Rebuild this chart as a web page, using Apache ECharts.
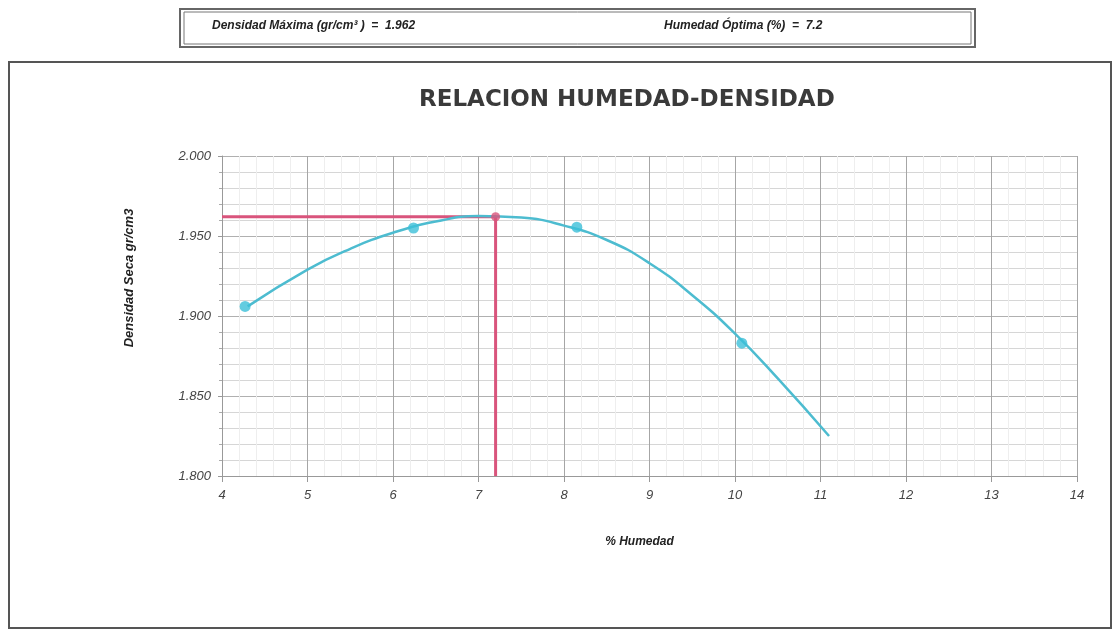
<!DOCTYPE html>
<html>
<head>
<meta charset="utf-8">
<script src="https://cdn.jsdelivr.net/npm/echarts@6/dist/echarts.min.js"></script>
<style>
  html, body { margin: 0; padding: 0; background: #fff; }
  #chart { width: 1113px; height: 630px; }
</style>
</head>
<body>
<div id="chart"></div>
<script>
// puntos del ensayo (humedad %, densidad seca)
const humedad = [4.27, 6.24, 8.15, 10.08]
const densidad = [1.906, 1.955, 1.9555, 1.883]

// curva de ajuste
const curvaX = [4.3, 5, 5.5, 6, 6.5, 7, 7.5, 8, 8.5, 9, 9.5, 10, 10.5, 11.1]
const curvaY = [1.906, 1.929, 1.942, 1.952, 1.959, 1.9625, 1.9615, 1.9565, 1.9475, 1.933, 1.913, 1.889, 1.861, 1.825]

const densMax = 1.962
const humOpt = 7.2
const xTicks = [4, 5, 6, 7, 8, 9, 10, 11, 12, 13, 14]
const yTicks = [1.8, 1.85, 1.9, 1.95, 2.0]

const chart = echarts.init(document.getElementById('chart'))

const labelFont = { fontFamily: 'Liberation Sans', fontStyle: 'italic', fontSize: 13, color: '#444' }

const option = {
  animation: false,
  backgroundColor: '#fff',
  grid: { left: 222, right: 36, top: 156, bottom: 154 },
  graphic: [
    // recuadro superior con doble borde
    { type: 'rect', shape: { x: 180, y: 9, width: 795, height: 38 }, style: { fill: '#fff', stroke: '#666', lineWidth: 2 } },
    { type: 'rect', shape: { x: 184, y: 12, width: 787, height: 32 }, style: { fill: 'none', stroke: '#777', lineWidth: 1 } },
    { type: 'text', left: 212, top: 20, style: { text: 'Densidad Máxima (gr/cm³ )  =  ' + densMax.toFixed(3), font: 'italic bold 12px "Liberation Sans"', fill: '#222' } },
    { type: 'text', left: 664, top: 20, style: { text: 'Humedad Óptima (%)  =  ' + humOpt, font: 'italic bold 12px "Liberation Sans"', fill: '#222' } },
    // marco del grafico
    { type: 'rect', shape: { x: 9, y: 62, width: 1102, height: 566 }, style: { stroke: '#555', lineWidth: 2, fill: 'none' } },
    { type: 'text', left: 419, top: 89, style: { text: 'RELACION HUMEDAD-DENSIDAD', font: 'bold 23px "DejaVu Sans"', fill: '#3a3a3a' } },
    { type: 'text', x: 129, y: 278, rotation: Math.PI / 2, style: { text: 'Densidad Seca gr/cm3', font: 'italic bold 13px "Liberation Sans"', fill: '#222', align: 'center', verticalAlign: 'middle' } }
  ],
  xAxis: {
    type: 'value',
    min: 4, max: 14, interval: 1,
    name: '% Humedad',
    nameLocation: 'middle',
    nameGap: 60,
    nameTextStyle: { fontFamily: 'Liberation Sans', fontStyle: 'italic', fontWeight: 'bold', fontSize: 12, color: '#222', padding: [0, 20, 0, 0] },
    axisLine: { show: true, lineStyle: { color: '#999' } },
    axisTick: { show: true, length: 6, lineStyle: { color: '#999' } },
    axisLabel: Object.assign({ margin: 13, formatter: v => xTicks.includes(v) ? String(v) : '' }, labelFont),
    splitLine: { show: true, lineStyle: { color: '#a6a6a6', width: 1 } },
    minorTick: { show: false, splitNumber: 5 },
    minorSplitLine: { show: true, lineStyle: { color: '#eee', width: 1 } }
  },
  yAxis: {
    type: 'value',
    min: 1.8, max: 2.0, interval: 0.05,
    axisLine: { show: true, lineStyle: { color: '#999' } },
    axisTick: { show: true, length: 4, lineStyle: { color: '#999' } },
    axisLabel: Object.assign({ margin: 11, formatter: v => yTicks.some(t => Math.abs(t - v) < 1e-6) ? v.toFixed(3) : '' }, labelFont),
    splitLine: { show: true, lineStyle: { color: '#b0b0b0', width: 1 } },
    minorTick: { show: true, splitNumber: 5, length: 3, lineStyle: { color: '#aaa' } },
    minorSplitLine: { show: true, lineStyle: { color: '#d6d6d6', width: 1 } }
  },
  series: [
    {
      name: 'optimo',
      type: 'line',
      data: [[4, densMax], [humOpt, densMax], [humOpt, 1.8]],
      symbol: 'none',
      lineStyle: { color: '#d9547c', width: 3 },
      z: 2
    },
    {
      name: 'curva',
      type: 'line',
      smooth: true,
      data: curvaX.map((x, i) => [x, curvaY[i]]),
      symbol: 'none',
      lineStyle: { color: '#4dbcd0', width: 2.5 },
      z: 3
    },
    {
      name: 'ensayo',
      type: 'scatter',
      data: humedad.map((x, i) => [x, densidad[i]]),
      symbolSize: 11,
      itemStyle: { color: '#3cbfd8' },
      z: 4
    },
    {
      name: 'max',
      type: 'scatter',
      data: [[humOpt, densMax]],
      symbolSize: 9,
      itemStyle: { color: '#d9547c' },
      z: 4
    }
  ]
}

chart.setOption(option)
</script>
</body>
</html>
